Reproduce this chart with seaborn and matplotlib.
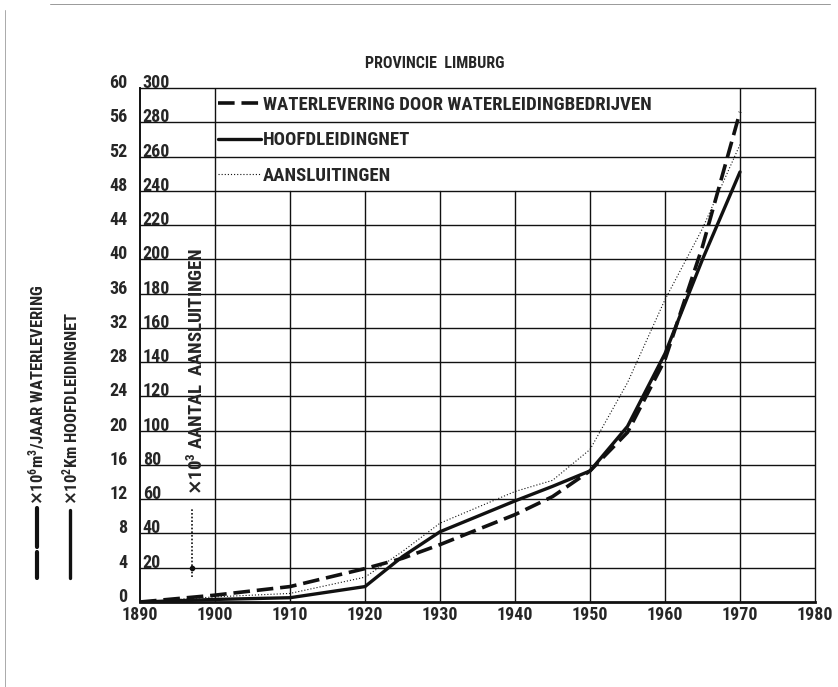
import seaborn as sns
import pandas as pd
import matplotlib.pyplot as plt
from matplotlib import font_manager
from matplotlib.lines import Line2D

# values
years = [1890, 1900, 1910, 1920, 1925, 1930, 1940, 1945, 1950, 1955, 1960, 1965, 1970]
waterlevering = [0, 0.8, 1.8, 3.9, 5.1, 6.7, 10.2, 12.3, 15.3, 19.8, 28.3, 41.5, 57.2]   # x10^6 m3/jaar
hoofdleidingnet = [0, 0.3, 0.5, 1.8, 5.3, 8.2, 11.8, 13.5, 15.3, 20.5, 29.0, 40.0, 50.2]  # x10^2 km
aansluitingen = [0, 3, 5, 14.5, 29.5, 46, 64.5, 71, 89, 128, 176.5, 218, 267]           # x10^3

left_ticks = list(range(0, 61, 4))
right_ticks = list(range(20, 301, 20))
decades = list(range(1890, 1981, 10))

df = pd.DataFrame({'jaar': years, 'water': waterlevering,
                   'net': hoofdleidingnet, 'aansl': aansluitingen})

# narrow lettering like the stencil on the drawing
installed = {f.name for f in font_manager.fontManager.ttflist}
face = 'DejaVu Sans'
for cand in ['Roboto Condensed', 'Liberation Sans Narrow', 'Liberation Sans']:
    if cand in installed:
        face = cand
        break

sns.set_style('white')
plt.rcParams['font.family'] = [face, 'DejaVu Sans']
plt.rcParams['font.weight'] = 'bold'

fig = plt.figure(figsize=(8.38, 6.87), dpi=100)
ax = fig.add_axes([140 / 838, 1 - 602 / 687, 675 / 838, 514 / 687])
ax2 = ax.twinx()

ink = '#111111'
sns.lineplot(data=df, x='jaar', y='water', ax=ax, color=ink, lw=2.6,
             linestyle=(0, (4.6, 1.9)), label='WATERLEVERING DOOR WATERLEIDINGBEDRIJVEN')
sns.lineplot(data=df, x='jaar', y='net', ax=ax, color=ink, lw=2.4,
             label='HOOFDLEIDINGNET')
sns.lineplot(data=df, x='jaar', y='aansl', ax=ax2, color=ink, lw=0.8,
             linestyle=(0, (1, 1.8)), label='AANSLUITINGEN')

ax.set_xlim(1890, 1980)
ax.set_ylim(0, 60)
ax2.set_ylim(0, 300)

# grid: horizontal full width, verticals stop under the legend block
for v in left_ticks[1:-1]:
    ax.axhline(v, color=ink, lw=1.0, zorder=0)
for d in decades[1:-1]:
    top = 60 if d in (1900, 1970) else 48
    ax.plot([d, d], [0, top], color=ink, lw=1.0, zorder=0)

ax.set_xticks(decades)
ax.set_xticklabels([str(d) for d in decades], fontsize=13)
ax.set_yticks(left_ticks)
ax.set_yticklabels([str(v) for v in left_ticks], fontsize=13, va='baseline')
ax.tick_params(axis='x', length=0, pad=3)
ax.tick_params(axis='y', length=0, pad=9)
ax.set_xlabel('')
ax.set_ylabel('')

ax2.yaxis.set_ticks_position('left')
ax2.set_yticks(right_ticks)
ax2.set_yticklabels([str(v) for v in right_ticks], fontsize=13, va='baseline', ha='left')
ax2.tick_params(axis='y', length=0, pad=-2)
ax2.set_ylabel('')
for s in ax2.spines.values():
    s.set_visible(False)

for name, w in [('left', 1.4), ('bottom', 2.0), ('top', 1.0), ('right', 1.0)]:
    ax.spines[name].set_color(ink)
    ax.spines[name].set_linewidth(w)

h1, l1 = ax.get_legend_handles_labels()
h2, l2 = ax2.get_legend_handles_labels()
ax.get_legend().remove()
ax2.get_legend().remove()
ax2.legend(h1 + h2, l1 + l2, loc='center left', bbox_to_anchor=(1900.4, 53.9),
           bbox_transform=ax.transData, frameon=False, fontsize=13.5,
           handlelength=2.3, handletextpad=0.08, borderpad=0, borderaxespad=0,
           labelspacing=0.92)

fig.text(435 / 838, 1 - 63 / 687, 'PROVINCIE  LIMBURG', fontsize=11.5,
         ha='center', va='center')

ax.text(1897.6, 12.5, r'$\times\mathregular{10^3}$ AANTAL  AANSLUITINGEN', rotation=90,
        ha='center', va='bottom', fontsize=13.5)
ax.plot([1896.9, 1896.9], [2.9, 11], color=ink, lw=1.2, linestyle=(0, (1, 1.2)))
ax.plot([1896.9], [4], marker='o', ms=3, color=ink)

fig.text(37 / 838, 1 - 505 / 687, r'$\times\mathregular{10^6 m^3}$/JAAR WATERLEVERING',
         rotation=90, ha='center', va='bottom', fontsize=12)
fig.text(70 / 838, 1 - 505 / 687, r'$\times\mathregular{10^2}$Km HOOFDLEIDINGNET',
         rotation=90, ha='center', va='bottom', fontsize=12)
fig.add_artist(Line2D([37 / 838, 37 / 838], [1 - 508 / 687, 1 - 547 / 687], color=ink, lw=3))
fig.add_artist(Line2D([37 / 838, 37 / 838], [1 - 552 / 687, 1 - 578 / 687], color=ink, lw=3))
fig.add_artist(Line2D([70 / 838, 70 / 838], [1 - 510 / 687, 1 - 578 / 687], color=ink, lw=2.4))

# scan edge marks
fig.add_artist(Line2D([0.06, 0.99], [0.994, 0.994], color='#999999', lw=0.7))
fig.add_artist(Line2D([0.006, 0.006], [0.0, 0.985], color='#aaaaaa', lw=0.7))

fig.savefig('out.png', dpi=100)
